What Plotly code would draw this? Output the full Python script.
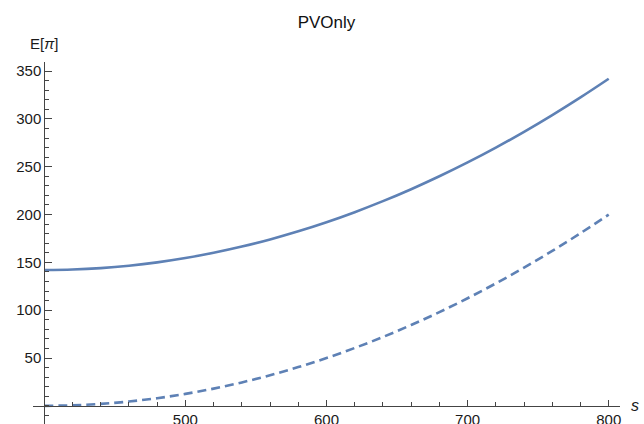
import plotly.graph_objects as go

# data
s_values = [400, 420, 440, 460, 480, 500, 520, 540, 560, 580, 600,
            620, 640, 660, 680, 700, 720, 740, 760, 780, 800]
upper_curve = [142.0, 142.5, 144.0, 146.5, 150.0, 154.5, 160.0, 166.5, 174.0, 182.5, 192.0,
               202.5, 214.0, 226.5, 240.0, 254.5, 270.0, 286.5, 304.0, 322.5, 342.0]
lower_curve = [0.0, 0.5, 2.0, 4.5, 8.0, 12.5, 18.0, 24.5, 32.0, 40.5, 50.0,
               60.5, 72.0, 84.5, 98.0, 112.5, 128.0, 144.5, 162.0, 180.5, 200.0]
x_ticks = [500, 600, 700, 800]
y_ticks = [50, 100, 150, 200, 250, 300, 350]

LINE = "#5E81B5"
AXIS = "#444444"
TXT = "#1a1a1a"
FONT = "Liberation Sans, Arial, sans-serif"

x_range = [392, 808]
y_range = [-19, 359.5]

fig = go.Figure()
fig.add_trace(go.Scatter(x=s_values, y=upper_curve, mode="lines",
                         line=dict(color=LINE, width=2.6, shape="spline"), showlegend=False))
fig.add_trace(go.Scatter(x=s_values, y=lower_curve, mode="lines",
                         line=dict(color=LINE, width=2.6, dash="9px,5px", shape="spline"),
                         showlegend=False))

xpos = (0 - y_range[0]) / (y_range[1] - y_range[0])
ypos = (400 - x_range[0]) / (x_range[1] - x_range[0])

fig.update_layout(
    width=644, height=424,
    margin=dict(l=33, r=24, t=62, b=0, autoexpand=False),
    paper_bgcolor="white", plot_bgcolor="white",
    font=dict(family=FONT, size=15, color=TXT),
    title=dict(text="PVOnly", x=0.5, xref="paper", xanchor="center",
               y=1 - 22 / 424, yref="container", yanchor="middle",
               font=dict(size=17, color="#111111", family=FONT)),
    xaxis=dict(range=x_range, anchor="free", position=xpos,
               showline=True, linecolor=AXIS, linewidth=1,
               showgrid=False, zeroline=False,
               tickmode="array", tickvals=x_ticks,
               ticks="inside", ticklen=6, tickcolor=AXIS, tickwidth=1,
               tickfont=dict(size=15, color=TXT, family=FONT),
               minor=dict(ticks="inside", ticklen=4, tickcolor=AXIS, tickwidth=1,
                          tick0=400, dtick=20, showgrid=False)),
    yaxis=dict(range=y_range, anchor="free", position=ypos,
               showline=True, linecolor=AXIS, linewidth=1,
               showgrid=False, zeroline=False,
               tickmode="array", tickvals=y_ticks,
               ticks="inside", ticklen=7, tickcolor=AXIS, tickwidth=1,
               tickfont=dict(size=15, color=TXT, family=FONT),
               minor=dict(ticks="inside", ticklen=4, tickcolor=AXIS, tickwidth=1,
                          tick0=0, dtick=10, showgrid=False)),
)

fig.add_annotation(text="E[<i>π</i>]", x=400, xref="x", xanchor="center",
                   y=1 + 19 / 362, yref="paper", yanchor="middle",
                   showarrow=False, font=dict(size=15, color=TXT, family=FONT))
fig.add_annotation(text="<i>s</i>", x=(635 - 33) / 587, xref="paper", xanchor="center",
                   y=0, yref="y", yanchor="middle",
                   showarrow=False, font=dict(size=16, color=TXT, family=FONT))

fig.write_html("out.html")
